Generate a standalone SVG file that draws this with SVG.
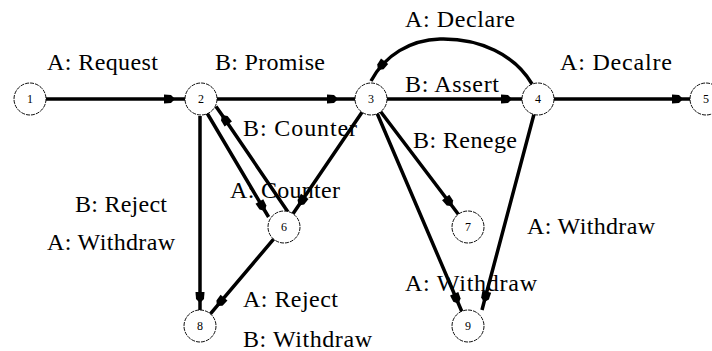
<svg xmlns="http://www.w3.org/2000/svg" width="712" height="351" viewBox="0 0 712 351">
  <style>
    .lbl { font-family: "Liberation Serif", "Times New Roman", serif; font-size: 24px; fill: #000; }
    .num { font-family: "Liberation Serif", "Times New Roman", serif; font-size: 12px; fill: #000; text-anchor: middle; }
    .state { fill: #fff; stroke: #111; stroke-width: 1; stroke-dasharray: 4 1; }
    .edge { fill: none; stroke: #000; stroke-width: 3.5; stroke-linejoin: round; marker-mid: url(#ah); }
    .arc { fill: none; stroke: #000; stroke-width: 3.5; }
  </style>
  <defs>
    <marker id="ah" viewBox="-12 -6 13 12" refX="0" refY="0" markerWidth="13" markerHeight="12" markerUnits="userSpaceOnUse" orient="auto">
      <path d="M-11,-4.5 L-4,-4 L0,0 L-4,4 L-11,4.5 Z" fill="#000"/>
    </marker>
    <path id="head" d="M-11,-4.5 L-4,-4 L0,0 L-4,4 L-11,4.5 Z" fill="#000"/>
  </defs>
  <rect width="712" height="351" fill="#fff"/>

  <!-- transition labels -->
  <g id="labels">
    <text class="lbl" x="47" y="70" textLength="111">A: Request</text>
    <text class="lbl" x="215" y="70" textLength="110">B: Promise</text>
    <text class="lbl" x="405" y="27" textLength="110">A: Declare</text>
    <text class="lbl" x="560" y="70" textLength="112">A: Decalre</text>
    <text class="lbl" x="405" y="92" textLength="94">B: Assert</text>
    <text class="lbl" x="413" y="148" textLength="104">B: Renege</text>
    <text class="lbl" x="243" y="136" textLength="114">B: Counter</text>
    <text class="lbl" x="230" y="198" textLength="110">A: Counter</text>
    <text class="lbl" x="75" y="212" textLength="92">B: Reject</text>
    <text class="lbl" x="47" y="250" textLength="128">A: Withdraw</text>
    <text class="lbl" x="243" y="307" textLength="95">A: Reject</text>
    <text class="lbl" x="243" y="347" textLength="129">B: Withdraw</text>
    <text class="lbl" x="527" y="234" textLength="128">A: Withdraw</text>
    <text class="lbl" x="405" y="291" textLength="132">A: Withdraw</text>
  </g>

  <!-- transitions: each path passes through the arrow tip as a middle vertex -->
  <g id="connectors">
    <path id="e1-2" class="edge" d="M46,99 L175,99 L185,99"/>
    <path id="e2-3" class="edge" d="M217,99 L338,99 L355,99"/>
    <path id="e3-4" class="edge" d="M387,99 L512,99 L522,99"/>
    <path id="e4-5" class="edge" d="M554,99 L683,99 L690,99"/>
    <path id="e2-8" class="edge" d="M200,116 L200,303 L200,310"/>
    <path id="e6-8" class="edge" d="M273.6,239.2 L216.9,306.1 L210.4,313.8"/>
    <path id="e3-6" class="edge" d="M362,112.2 L298.6,205.5 L293,213.8"/>
    <path id="e2-6" class="edge" d="M207,113 L265,211 L268.6,217"/>
    <path id="e6-2" class="edge" d="M288,212 L222,115 L216,106.5"/>
    <path id="e3-7" class="edge" d="M380.7,111.8 L452.3,206.2 L458.3,214.2"/>
    <path id="e3-9" class="edge" d="M377.3,113.7 L458.5,303.8 L461.7,311.3"/>
    <path id="e4-9" class="edge" d="M533.9,114.5 L484,302.3 L482,310"/>
    <path id="e4-3" class="arc" d="M532,84 C515,55 480,38 440,39 C410,40 385,55 371,81"/>
    <use href="#head" transform="translate(378 70) rotate(127)"/>
  </g>

  <!-- states -->
  <g id="n1"><circle class="state" cx="30" cy="99" r="16"/><text class="num" x="30" y="103">1</text></g>
  <g id="n2"><circle class="state" cx="201" cy="99" r="16"/><text class="num" x="201" y="103">2</text></g>
  <g id="n3"><circle class="state" cx="371" cy="99" r="16"/><text class="num" x="371" y="103">3</text></g>
  <g id="n4"><circle class="state" cx="538" cy="99" r="16"/><text class="num" x="538" y="103">4</text></g>
  <g id="n5"><circle class="state" cx="706" cy="99" r="16"/><text class="num" x="706" y="103">5</text></g>
  <g id="n6"><circle class="state" cx="284" cy="227" r="16"/><text class="num" x="284" y="231">6</text></g>
  <g id="n7"><circle class="state" cx="468" cy="227" r="16"/><text class="num" x="468" y="231">7</text></g>
  <g id="n8"><circle class="state" cx="200" cy="326" r="16"/><text class="num" x="200" y="330">8</text></g>
  <g id="n9"><circle class="state" cx="468" cy="326" r="16"/><text class="num" x="468" y="330">9</text></g>
</svg>
